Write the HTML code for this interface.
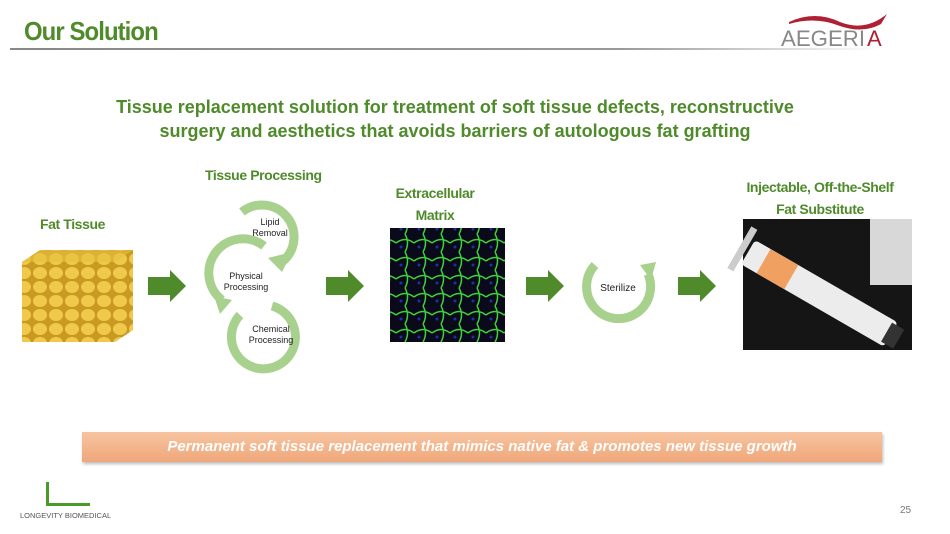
<!DOCTYPE html>
<html><head><meta charset="utf-8"><style>
body{margin:0;width:950px;height:534px;background:#fff;position:relative;overflow:hidden;font-family:"Liberation Sans",sans-serif}
.a{position:absolute}
.g{color:#4f8a2b;font-weight:bold;text-align:center;font-family:"Liberation Sans",sans-serif;letter-spacing:-0.4px}
</style></head><body>
<div class="a" style="left:24px;top:16px;font-size:26px;font-weight:bold;color:#4f8a2b;letter-spacing:-1px;transform:scaleX(0.92);transform-origin:left">Our Solution</div>
<div class="a" style="left:10px;top:48px;width:870px;height:2px;background:linear-gradient(90deg,#888,#999 70%,#fff)"></div>
<svg class="a" style="left:775px;top:8px" width="120" height="40">
<path d="M14 14 Q40 2 65 14 Q90 24 112 6 L106 16 Q88 26 65 18 Q40 8 14 16Z" fill="#b02035"/>
<text x="6" y="38" font-size="22" fill="#888" font-family="Liberation Sans" textLength="84" lengthAdjust="spacingAndGlyphs">AEGERI</text>
<text x="92" y="38" font-size="22" fill="#b02035" font-family="Liberation Sans">A</text>
</svg>
<div class="a" style="left:0;top:95px;width:910px;text-align:center;font-size:18px;font-weight:bold;color:#4f8a2b;line-height:24px">Tissue replacement solution for treatment of soft tissue defects, reconstructive<br>surgery and aesthetics that avoids barriers of autologous fat grafting</div>
<div class="a g" style="left:40px;top:216px;font-size:14px">Fat Tissue</div>
<div class="a g" style="left:205px;top:167px;font-size:14px">Tissue Processing</div>
<div class="a g" style="left:380px;top:182px;width:110px;font-size:14px;line-height:22px">Extracellular<br>Matrix</div>
<div class="a g" style="left:720px;top:176px;width:200px;font-size:14px;line-height:22px">Injectable, Off-the-Shelf<br>Fat Substitute</div>
<svg class="a" style="left:0;top:0" width="950" height="534">
<defs><pattern id="f" width="16" height="14" patternUnits="userSpaceOnUse"><rect width="16" height="14" fill="#c89a22"/><ellipse cx="8" cy="7" rx="7" ry="6" fill="#f0c84a"/></pattern>
<pattern id="m" width="18" height="18" patternUnits="userSpaceOnUse"><rect width="18" height="18" fill="#0a0a1a"/><path d="M0 9 Q9 2 18 9 M9 0 Q14 9 9 18" stroke="#3fd03a" stroke-width="1.5" fill="none"/><circle cx="5" cy="13" r="1.5" fill="#2030a0"/></pattern></defs>
<polygon points="22,262 40,250 133,250 133,330 115,342 22,342" fill="url(#f)"/>
<polygon points="22,262 40,250 133,250 115,262" fill="#e8c040" opacity=".6"/>
<rect x="390" y="228" width="115" height="114" fill="url(#m)"/>
<rect x="743" y="219" width="169" height="131" fill="#151515"/>
<rect x="870" y="219" width="42" height="66" fill="#d8d8d8"/>
<g transform="translate(755,240) rotate(30)"><rect x="0" y="0" width="165" height="28" rx="4" fill="#ececec"/><rect x="18" y="0" width="32" height="28" fill="#f0a060"/><rect x="-10" y="-10" width="7" height="48" fill="#ccc"/><rect x="160" y="3" width="14" height="22" fill="#333"/></g>
<g fill="none" stroke="#a9d18e" stroke-width="9">
<path d="M242 212 A32 32 0 1 1 282 262"/>
<path d="M264 246 A32 32 0 0 0 222 300"/>
<path d="M240 315 A32 32 0 1 0 272 306"/>
<path d="M595 265 A32 32 0 1 0 648 274"/>
</g>
<g fill="#a9d18e"><polygon points="268,258 292,252 282,272"/><polygon points="214,296 232,300 220,314"/><polygon points="640,265 656,262 651,280"/></g>
<g fill="#4f8a2b">
<polygon points="148,277 170,277 170,270 186,286 170,302 170,295 148,295"/>
<polygon points="326,277 348,277 348,270 364,286 348,302 348,295 326,295"/>
<polygon points="526,277 548,277 548,270 564,286 548,302 548,295 526,295"/>
<polygon points="678,277 700,277 700,270 716,286 700,302 700,295 678,295"/>
</g>
<g font-family="Liberation Sans" font-size="9" fill="#222" text-anchor="middle">
<text x="270" y="225">Lipid</text><text x="270" y="236">Removal</text>
<text x="246" y="279">Physical</text><text x="246" y="290">Processing</text>
<text x="271" y="332">Chemical</text><text x="271" y="343">Processing</text>
<text x="618" y="291" font-size="10">Sterilize</text>
</g>
<rect x="46" y="482" width="3" height="24" fill="#4a9a2a"/><rect x="46" y="503" width="44" height="3" fill="#4a9a2a"/>
</svg>
<div class="a" style="left:20px;top:511px;font-size:7.5px;color:#555">LONGEVITY BIOMEDICAL</div>
<div class="a" style="left:82px;top:432px;width:800px;height:30px;background:linear-gradient(#f7c4a0,#f0a77a);box-shadow:1px 2px 3px #bbb;color:#fff;font-weight:bold;font-style:italic;font-size:15px;line-height:30px;text-align:center">Permanent soft tissue replacement that mimics native fat &amp; promotes new tissue growth</div>
<div class="a" style="left:900px;top:505px;font-size:10px;color:#777">25</div>
</body></html>
